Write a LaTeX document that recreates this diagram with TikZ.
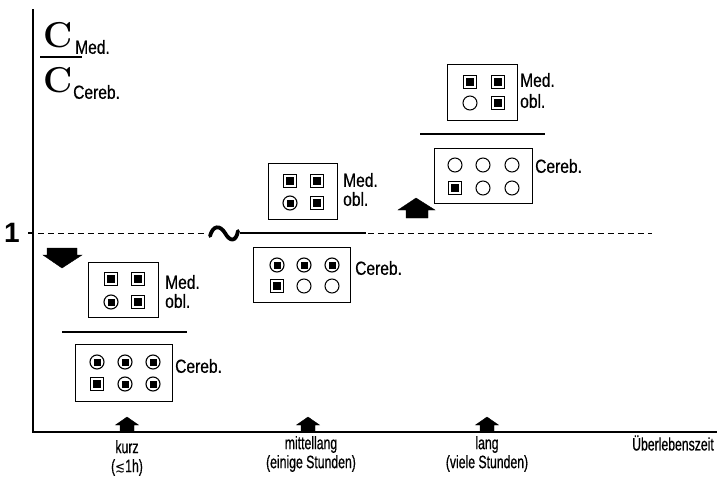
\documentclass[tikz,border=0pt]{standalone}
\usepackage{fontspec}
\newfontfamily\boxf[FakeStretch=0.82,FakeBold=0.6]{Liberation Sans}
\newfontfamily\axf[FakeStretch=0.68,FakeBold=0.6]{Liberation Sans}
\newfontfamily\onef{Liberation Sans}
\newfontfamily\djv[FakeStretch=0.8]{DejaVu Sans}
\begin{document}
\begin{tikzpicture}[x=1pt,y=-1pt,
  bx/.style={draw, line width=1pt, inner sep=0pt},
  sqs/.style={draw, rectangle, line width=1.1pt, minimum size=13pt, inner sep=0pt,
    path picture={\fill ([shift={(-3.7pt,-3.7pt)}]path picture bounding box.center) rectangle ++(7.4pt,7.4pt);}},
  cis/.style={draw, circle, line width=1.1pt, minimum size=14pt, inner sep=0pt,
    path picture={\fill ([shift={(-3.5pt,-3.5pt)}]path picture bounding box.center) rectangle ++(7pt,7pt);}},
  eci/.style={draw, circle, line width=1pt, minimum size=14pt, inner sep=0pt},
  lab/.style={font=\boxf\fontsize{19}{21}\selectfont, anchor=west, inner sep=0pt},
  axl/.style={font=\axf\fontsize{18}{19}\selectfont, align=center, inner sep=0pt},
  axisline/.style={line width=2pt},
  fracline/.style={line width=2.2pt},
  blk/.style={fill=black, draw=black, line width=0.4pt, line join=miter}
]
\useasboundingbox (0,0) rectangle (721,477);

% axes
\coordinate (ytop) at (33,10);
\coordinate (orig) at (33,432);
\coordinate (xend) at (716,432);
\draw[axisline, line cap=rect] (ytop) -- (orig) -- (xend);

% ratio label
\node[inner sep=0pt, font=\fontsize{36}{36}\selectfont\bfseries] (c1) at (58,35) {C};
\node[lab] (c1s) at (75,47) {Med.};
\coordinate (fl1) at (40,57);
\coordinate (fl2) at (82,57);
\draw[fracline] (fl1) -- (fl2);
\node[inner sep=0pt, font=\fontsize{36}{36}\selectfont\bfseries] (c2) at (58,80) {C};
\node[lab] (c2s) at (73,92) {Cereb.};

% level 1
\node[inner sep=0pt, font=\onef\bfseries\fontsize{28}{28}\selectfont] (one) at (12,233) {1};
\coordinate (t1) at (28,233);
\draw[line width=1.6pt] (t1) -- (orig |- t1);
\coordinate (d1) at (38,233);
\coordinate (d2) at (652,233);
\draw[line width=1pt, dash pattern=on 6pt off 4pt] (d1) -- (d2);

% tilde and middle fraction line
\fill[white] (205,225) rectangle (368,241);
\draw[line width=3.8pt, line cap=round] (210,236) .. controls (213,225) and (220,225) .. (225,233) .. controls (230,242) and (236,242) .. (238,231);
\coordinate (ml1) at (240,233);
\coordinate (ml2) at (366,233);
\draw[fracline] (ml1) -- (ml2);

% down arrow
\fill[blk] (47,248) -- (77,248) -- (77,255) -- (82,255) -- (62,268) -- (43,255) -- (47,255) -- cycle;
% up arrow
\fill[blk] (416,198) -- (435,210) -- (428,210) -- (428,218) -- (406,218) -- (406,210) -- (398,210) -- cycle;

% ---------- group 1 (kurz) ----------
\node[bx, minimum width=70pt, minimum height=55pt] (m1) at (123,289.5) {};
\node[sqs] (m1a) at (111,279) {};
\node[sqs] (m1b) at (138,279) {};
\node[cis] (m1c) at (111,302) {};
\node[sqs] (m1d) at (138,302) {};
\node[lab] (m1t) at (165,282) {Med.};
\node[lab] (m1u) at (165,301) {obl.};
\coordinate (f1a) at (62,332);
\coordinate (f1b) at (187,332);
\draw[fracline] (f1a) -- (f1b);
\node[bx, minimum width=97pt, minimum height=57pt] (k1) at (123.5,372.5) {};
\node[cis] (k1a) at (97,362) {};
\node[cis] (k1b) at (125,362) {};
\node[cis] (k1c) at (153,362) {};
\node[sqs] (k1d) at (97,384) {};
\node[cis] (k1e) at (125,384) {};
\node[cis] (k1f) at (153,384) {};
\node[lab] (k1t) at (175,366) {Cereb.};

% ---------- group 2 (mittellang) ----------
\node[bx, minimum width=69pt, minimum height=56pt] (m2) at (302.5,191) {};
\node[sqs] (m2a) at (290,181) {};
\node[sqs] (m2b) at (317,181) {};
\node[cis] (m2c) at (290,203) {};
\node[sqs] (m2d) at (317,203) {};
\node[lab] (m2t) at (343,180) {Med.};
\node[lab] (m2u) at (343,199) {obl.};
\node[bx, minimum width=97pt, minimum height=55pt] (k2) at (301.5,274.5) {};
\node[cis] (k2a) at (277,265) {};
\node[cis] (k2b) at (304,265) {};
\node[cis] (k2c) at (332,265) {};
\node[sqs] (k2d) at (277,286) {};
\node[eci] (k2e) at (304,286) {};
\node[eci] (k2f) at (332,286) {};
\node[lab] (k2t) at (355,268) {Cereb.};

% ---------- group 3 (lang) ----------
\node[bx, minimum width=70pt, minimum height=56pt] (m3) at (482,92) {};
\node[sqs] (m3a) at (470,82) {};
\node[sqs] (m3b) at (498,82) {};
\node[eci] (m3c) at (470,103) {};
\node[sqs] (m3d) at (498,103) {};
\node[lab] (m3t) at (520,80) {Med.};
\node[lab] (m3u) at (520,101) {obl.};
\coordinate (f3a) at (420,134);
\coordinate (f3b) at (545,134);
\draw[fracline] (f3a) -- (f3b);
\node[bx, minimum width=98pt, minimum height=55pt] (k3) at (483,175.5) {};
\node[eci] (k3a) at (455,165) {};
\node[eci] (k3b) at (483,165) {};
\node[eci] (k3c) at (512,165) {};
\node[sqs] (k3d) at (455,188) {};
\node[eci] (k3e) at (483,188) {};
\node[eci] (k3f) at (512,188) {};
\node[lab] (k3t) at (535,166) {Cereb.};

% axis markers (house arrows)
\foreach \cx in {127,308,487}{
  \fill[blk] (\cx,417) -- (\cx+11.5,425) -- (\cx+7,425) -- (\cx+7,432) -- (\cx-7,432) -- (\cx-7,425) -- (\cx-11.5,425) -- cycle;
}

% axis labels
\node[axl] (lk) at (127,458) {kurz\\({\djv\fontsize{15}{15}\selectfont ≲}1h)};
\node[axl] (lm) at (311,454) {mittellang\\(einige Stunden)};
\node[axl] (ll) at (487,454) {lang\\(viele Stunden)};
\node[axl] (lu) at (673,443) {Überlebenszeit};
\end{tikzpicture}
\end{document}
